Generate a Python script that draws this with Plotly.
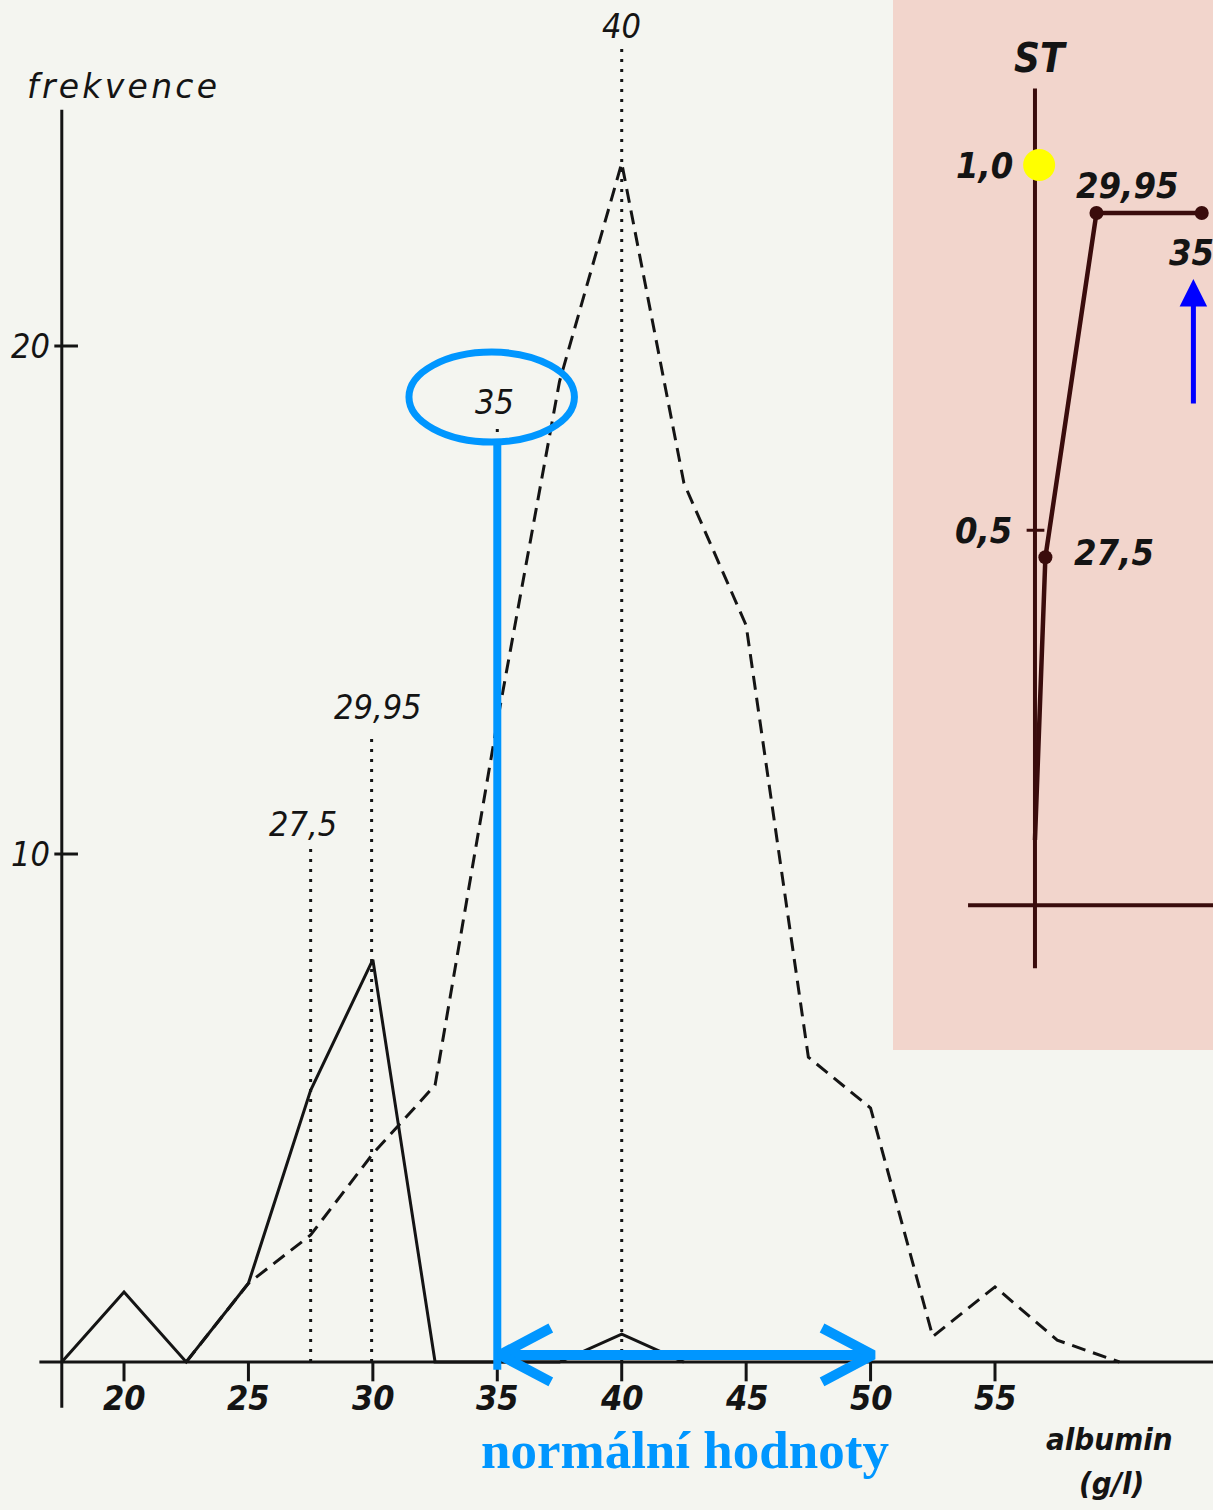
import plotly.graph_objects as go

# ---------------- data ----------------
albumin_sick = [17.5, 20, 22.5, 25, 27.5, 30, 32.5, 35, 37.5, 40, 42.5]
freq_sick = [0, 1.38, 0, 1.55, 5.35, 7.92, 0, 0, 0, 0.55, 0]

albumin_healthy = [22.5, 25, 27.5, 30, 32.5, 35, 37.5, 40, 42.5, 45, 47.5, 50, 52.5, 55, 57.5, 60]
freq_healthy = [0, 1.55, 2.5, 4.1, 5.45, 12.6, 19.3, 23.6, 17.3, 14.5, 6.0, 5.0, 0.5, 1.48, 0.43, 0]

x_ticks = [20, 25, 30, 35, 40, 45, 50, 55]
y_ticks = [10, 20]

marked_values = [27.5, 29.95, 35, 40]
marked_labels = ["27,5", "29,95", "35", "40"]
marked_heights = [10.2, 12.35, 18.4, 25.9]

normal_range = [35, 50]

# inset: cumulative share (ST)
inset_albumin = [27.0, 27.5, 29.95, 35.0]
inset_st = [0.087, 0.464, 0.923, 0.923]
inset_yticks = [0.5, 1.0]
inset_ytick_labels = ["0,5", "1,0"]

# ---------------- styling ----------------
W, H = 1213, 1510
BG = "#f4f5f0"
PINK = "#f2d5cc"
INK = "#141414"
BROWN = "#3a0c0c"
BLUE = "#0096ff"
NUM_FONT = "DejaVu Sans Condensed, DejaVu Sans, sans-serif"

XR = [15.017, 63.76]
YR = [-2.913, 26.811]

fig = go.Figure()

# axes of the main chart (drawn in data coordinates)
fig.add_trace(go.Scatter(x=[16.6, XR[1]], y=[0, 0], mode="lines",
                         line=dict(color=INK, width=3), hoverinfo="skip"))
fig.add_trace(go.Scatter(x=[17.5, 17.5], y=[-0.9, 24.65], mode="lines",
                         line=dict(color=INK, width=3), hoverinfo="skip"))
for t in x_ticks:
    fig.add_trace(go.Scatter(x=[t, t], y=[0, -0.38], mode="lines",
                             line=dict(color=INK, width=3), hoverinfo="skip"))
for t in y_ticks:
    fig.add_trace(go.Scatter(x=[17.2, 18.15], y=[t, t], mode="lines",
                             line=dict(color=INK, width=3), hoverinfo="skip"))

# dotted marker lines
for v, h in zip(marked_values, marked_heights):
    fig.add_trace(go.Scatter(x=[v, v], y=[0, h], mode="lines",
                             line=dict(color=INK, width=3, dash="3px,7px"),
                             hoverinfo="skip"))

# frequency polygons
fig.add_trace(go.Scatter(x=albumin_healthy, y=freq_healthy, mode="lines",
                         line=dict(color=INK, width=3, dash="14px,8px"),
                         hoverinfo="skip"))
fig.add_trace(go.Scatter(x=albumin_sick, y=freq_sick, mode="lines",
                         line=dict(color=INK, width=3), hoverinfo="skip"))

# blue highlight: vertical line at lower limit of normal range
fig.add_trace(go.Scatter(x=[normal_range[0], normal_range[0]], y=[-0.15, 18.05],
                         mode="lines", line=dict(color=BLUE, width=8),
                         hoverinfo="skip"))
# double-headed arrow across the normal range
ay = 0.14
hx, hy = 2.05, 0.53
lo, hi = normal_range[0] + 0.1, normal_range[1] + 0.1
fig.add_trace(go.Scatter(
    x=[lo, hi, None, lo + hx, lo, lo + hx, None, hi - hx, hi, hi - hx],
    y=[ay, ay, None, ay + hy, ay, ay - hy, None, ay + hy, ay, ay - hy],
    mode="lines", line=dict(color=BLUE, width=10), hoverinfo="skip"))

# ---------------- inset ----------------
IX = [20.19, 35.54]
IY = [-0.193, 1.207]
fig.add_trace(go.Scatter(x=[27, 27], y=[-0.084, 1.089], mode="lines",
                         line=dict(color=BROWN, width=4), hoverinfo="skip",
                         xaxis="x2", yaxis="y2"))
fig.add_trace(go.Scatter(x=[23.79, IX[1]], y=[0, 0], mode="lines",
                         line=dict(color=BROWN, width=4), hoverinfo="skip",
                         xaxis="x2", yaxis="y2"))
fig.add_trace(go.Scatter(x=[26.6, 27.45], y=[0.5, 0.5], mode="lines",
                         line=dict(color=BROWN, width=3), hoverinfo="skip",
                         xaxis="x2", yaxis="y2"))
fig.add_trace(go.Scatter(x=inset_albumin, y=inset_st, mode="lines",
                         line=dict(color=BROWN, width=4.5), hoverinfo="skip",
                         xaxis="x2", yaxis="y2"))
fig.add_trace(go.Scatter(x=inset_albumin[1:], y=inset_st[1:], mode="markers",
                         marker=dict(color=BROWN, size=14), hoverinfo="skip",
                         xaxis="x2", yaxis="y2"))
fig.add_trace(go.Scatter(x=[27.2], y=[0.987], mode="markers",
                         marker=dict(color="#ffff00", size=32), hoverinfo="skip",
                         xaxis="x2", yaxis="y2"))

annotations = []


def txt(x, y, s, size, xref="x", yref="y", color=INK, family=NUM_FONT,
        xanchor="center", yanchor="middle"):
    annotations.append(dict(x=x, y=y, xref=xref, yref=yref, text=s,
                            showarrow=False, xanchor=xanchor, yanchor=yanchor,
                            font=dict(size=size, color=color, family=family)))


for t in x_ticks:
    txt(t + 0.02, -0.7, "<b><i>%d</i></b>" % t, 34)
for t in y_ticks:
    txt(17.1, t, "<i>%d</i>" % t, 34, xanchor="right")

label_pos = [(27.2, 10.6), (30.2, 12.9), (34.9, 18.9), (40.0, 26.3)]
for (lx, ly), s in zip(label_pos, marked_labels):
    txt(lx, ly, "<i>%s</i>" % s, 34)

txt(19.9, 25.1, "<i>" + "\u200a".join("frekvence") + "</i>", 33,
    family="DejaVu Sans, sans-serif")
txt(59.6, -1.52, "<b><i>albumin</i></b>", 31)
txt(59.7, -2.38, "<b><i>(g/l)</i></b>", 31)
txt(42.55, -1.73, "<b>normální hodnoty</b>", 53, color=BLUE,
    family="Liberation Serif, Times New Roman, serif")

# inset texts
txt(27.25, 1.13, "<b><i>ST</i></b>", 40, xref="x2", yref="y2")
txt(26.05, 0.987, "<b><i>%s</i></b>" % inset_ytick_labels[1], 36, xref="x2", yref="y2",
    xanchor="right")
txt(26.0, 0.50, "<b><i>%s</i></b>" % inset_ytick_labels[0], 36, xref="x2", yref="y2",
    xanchor="right")
txt(28.8, 0.47, "<b><i>27,5</i></b>", 36, xref="x2", yref="y2", xanchor="left")
txt(31.4, 0.96, "<b><i>29,95</i></b>", 36, xref="x2", yref="y2")
txt(34.5, 0.87, "<b><i>35</i></b>", 36, xref="x2", yref="y2")

# inset blue arrow
annotations.append(dict(x=34.6, y=0.835, ax=34.6, ay=0.667, xref="x2", yref="y2",
                        axref="x2", ayref="y2", text="", showarrow=True,
                        arrowhead=2, arrowsize=1.1, arrowwidth=5,
                        arrowcolor="#0000ff"))

shapes = [
    dict(type="rect", xref="paper", yref="paper", x0=893 / W, x1=1,
         y0=1 - 1050 / H, y1=1, fillcolor=PINK, line=dict(width=0), layer="below"),
    dict(type="circle", xref="x", yref="y", x0=31.45, x1=38.1, y0=18.11, y1=19.88,
         line=dict(color=BLUE, width=7)),
]

fig.update_layout(
    width=W, height=H,
    margin=dict(l=0, r=0, t=0, b=0),
    paper_bgcolor=BG, plot_bgcolor="rgba(0,0,0,0)",
    showlegend=False,
    xaxis=dict(range=XR, visible=False, domain=[0, 1], fixedrange=True),
    yaxis=dict(range=YR, visible=False, domain=[0, 1], fixedrange=True),
    xaxis2=dict(range=IX, visible=False, domain=[893 / W, 1], anchor="y2",
                fixedrange=True),
    yaxis2=dict(range=IY, visible=False, domain=[1 - 1050 / H, 1], anchor="x2",
                fixedrange=True),
    shapes=shapes,
    annotations=annotations,
)

fig.write_html("out.html",
               config={"displayModeBar": False},
               post_script="document.body.style.margin='0';"
                           "document.body.style.padding='0';"
                           "document.body.style.overflow='hidden';")
